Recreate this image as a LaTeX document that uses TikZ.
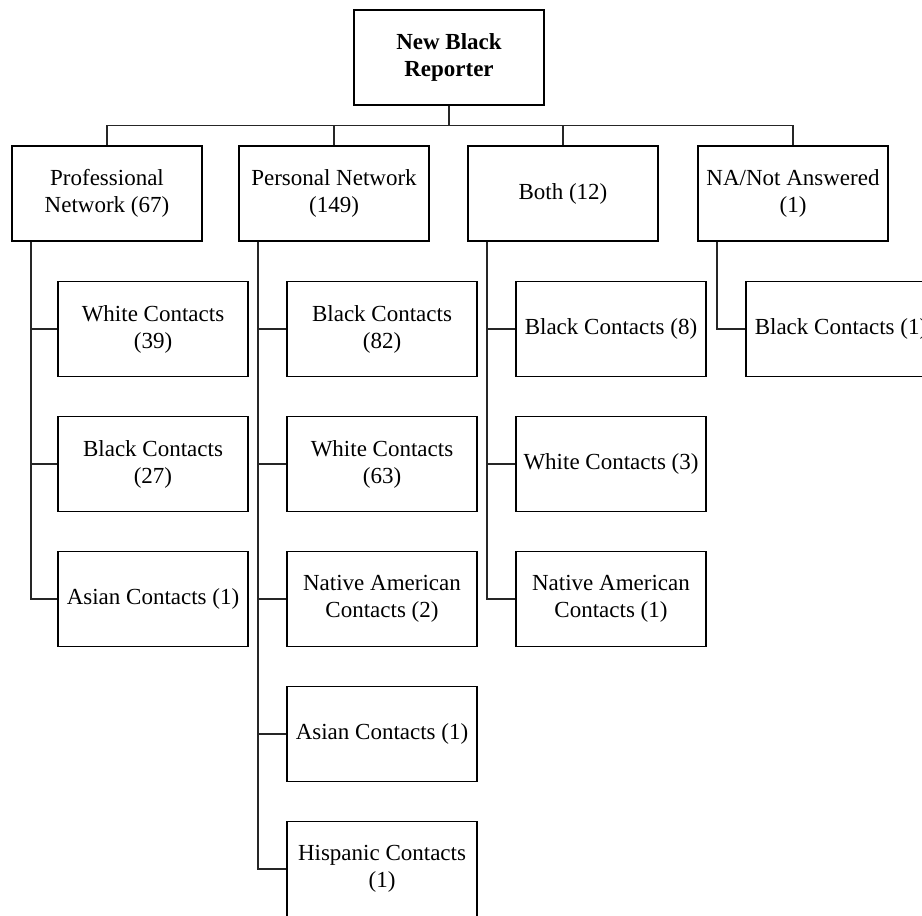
\documentclass[tikz,border=0pt]{standalone}
\usepackage{fontspec}
\setmainfont{Liberation Serif}
\begin{document}
\begin{tikzpicture}[x=1pt, y=-1pt,
  box/.style={draw=black, line width=1.4pt, fill=white, minimum width=190pt,
    minimum height=95pt, inner sep=0pt, align=center,
    font=\fontsize{23}{27}\selectfont},
  rootbox/.style={box, font=\fontsize{23}{27}\selectfont\bfseries},
  link/.style={draw=black!85, line width=1.4pt}]
  \useasboundingbox (0,0) rectangle (922,916);
  \fill[white] (0,0) rectangle (922,916);
  \clip (0,0) rectangle (922,916);

  % root
  \node[rootbox] (root) at (449,57.5) {New Black\\Reporter};

  % first level
  \node[box] (prof) at (107,193.5) {Professional\\Network (67)};
  \node[box] (pers) at (334,193.5) {Personal Network\\(149)};
  \node[box] (both) at (563,193.5) {Both (12)};
  \node[box] (na)   at (793,193.5) {NA/Not Answered\\(1)};

  % professional network contacts
  \node[box] (p1) at (153,329) {White Contacts\\(39)};
  \node[box] (p2) at (153,464) {Black Contacts\\(27)};
  \node[box] (p3) at (153,599) {Asian Contacts (1)};

  % personal network contacts
  \node[box] (q1) at (382,329) {Black Contacts\\(82)};
  \node[box] (q2) at (382,464) {White Contacts\\(63)};
  \node[box] (q3) at (382,599) {Native American\\Contacts (2)};
  \node[box] (q4) at (382,734) {Asian Contacts (1)};
  \node[box] (q5) at (382,869) {Hispanic Contacts\\(1)};

  % both
  \node[box] (b1) at (611,329) {Black Contacts (8)};
  \node[box] (b2) at (611,464) {White Contacts (3)};
  \node[box] (b3) at (611,599) {Native American\\Contacts (1)};

  % not answered
  \node[box] (n1) at (841,329) {Black Contacts (1)};

  % bus from root to first level
  \foreach \t in {prof,pers,both,na}
    \draw[link] (root.south) -- ++(0,20) -| (\t.north);

  % elbow connectors from each group to its contacts
  \foreach \p/\c in {prof/p1,prof/p2,prof/p3,
                     pers/q1,pers/q2,pers/q3,pers/q4,pers/q5,
                     both/b1,both/b2,both/b3,
                     na/n1}
    \draw[link] ([xshift=19.5pt]\p.south west) |- (\c.west);
\end{tikzpicture}
\end{document}
